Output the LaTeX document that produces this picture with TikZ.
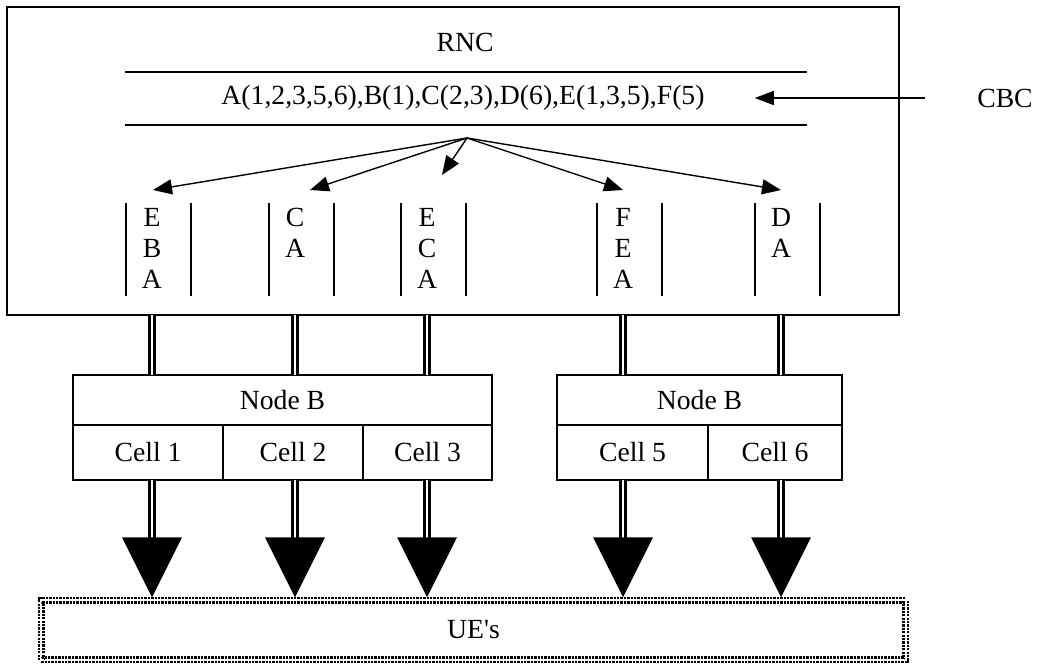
\documentclass[tikz,border=0pt]{standalone}
\usepackage{fontspec}
\setmainfont{Liberation Serif}
\usetikzlibrary{positioning,calc,arrows.meta}

\tikzset{
  cellbox/.style={rectangle, draw=black, line width=1.3pt, inner sep=0pt, outer sep=0pt, minimum height=55pt},
  headbox/.style={cellbox, minimum height=50pt},
  queuecol/.style={align=center, inner sep=0pt, anchor=north},
  fanarrow/.style={line width=1.4pt, -{Triangle[length=19pt,width=15pt]}},
  dblline/.style={double, line width=2.6pt, double distance=2.4pt},
}

\begin{document}
\begin{tikzpicture}[x=1pt, y=-1pt, font=\fontsize{27.7}{31}\selectfont]
       \useasboundingbox (0,0) rectangle (1037,664);

       % RNC with its queue
       \node [rectangle, draw=black, line width=1.4pt, inner sep=0pt, outer sep=0pt,
              minimum width=892pt, minimum height=308pt, anchor=north west] at (7,7) (rnc) {};
       \node at (465,42) (rnclabel) {RNC};
       \node [inner sep=0pt] at (463,98) (queue) {A(1,2,3,5,6),B(1),C(2,3),D(6),E(1,3,5),F(5)};
       \draw [line width=1.4pt] (125,72) -- (807,72) (125,125) -- (807,125);

       \node at (1005,98) (cbc) {CBC};
       \coordinate (cbcin) at (925,98);
       \draw [line width=1.4pt, -{Triangle[length=19pt,width=14pt]}] (cbcin) -- ($(queue.east)+(50,0)$);

       \node [queuecol] at (152,208) (qEBA) {E\\B\\A};
       \node [queuecol] at (295,208) (qCA)  {C\\A};
       \node [queuecol] at (427,208) (qECA) {E\\C\\A};
       \node [queuecol] at (623,208) (qFEA) {F\\E\\A};
       \node [queuecol] at (781,208) (qDA)  {D\\A};
       \foreach \q in {qEBA,qCA,qECA,qFEA,qDA}
         \draw [line width=1.3pt] ($(\q.north)+(-26,-5)$) -- ++(0,93)
                                  ($(\q.north)+(39,-5)$) -- ++(0,93);

       \coordinate (fan) at (467,138);
       \draw [fanarrow] (fan) -- ($(qEBA.north)+(1,-18)$);
       \draw [fanarrow] (fan) -- ($(qCA.north)+(15,-18)$);
       \draw [fanarrow] (fan) -- ($(qECA.north)+(15,-33)$);
       \draw [fanarrow] (fan) -- ($(qFEA.north)+(0,-18)$);
       \draw [fanarrow] (fan) -- ($(qDA.north)+(0,-18)$);

       % Node B's and their cells
       \node [headbox, minimum width=419pt, anchor=north west] at (73,375) (nodebA) {Node B};
       \node [cellbox, minimum width=150pt, anchor=north west] at (nodebA.south west) (cell1) {Cell 1};
       \node [cellbox, minimum width=140pt, right=0pt of cell1] (cell2) {Cell 2};
       \node [cellbox, minimum width=129pt, right=0pt of cell2] (cell3) {Cell 3};
       \node [headbox, minimum width=285pt, anchor=north west] at (557,375) (nodebB) {Node B};
       \node [cellbox, minimum width=151pt, anchor=north west] at (nodebB.south west) (cell5) {Cell 5};
       \node [cellbox, minimum width=134pt, right=0pt of cell5] (cell6) {Cell 6};

       \foreach \q/\b in {qEBA/nodebA, qCA/nodebA, qECA/nodebA, qFEA/nodebB, qDA/nodebB}
         \draw [dblline] (rnc.south -| \q) -- (\b.north -| \q);

       % UE's
       \node [rectangle, draw=black, double, line width=2.3pt, double distance=2.2pt,
              dash pattern=on 2.3pt off 1.1pt, inner sep=0pt, outer sep=0pt,
              minimum width=864.5pt, minimum height=59.5pt] at (473.5,630) (ue) {UE\textquotesingle s};

       \foreach \q/\c in {qEBA/cell1, qCA/cell2, qECA/cell3, qFEA/cell5, qDA/cell6}
       {
         \draw [dblline] (\c.south -| \q) -- ++(0,58);
         \fill ($(ue.north -| \q)+(0,-3)$) -- ++(-30,-60) -- ++(60,0) -- cycle;
       }
    \end{tikzpicture}
\end{document}
